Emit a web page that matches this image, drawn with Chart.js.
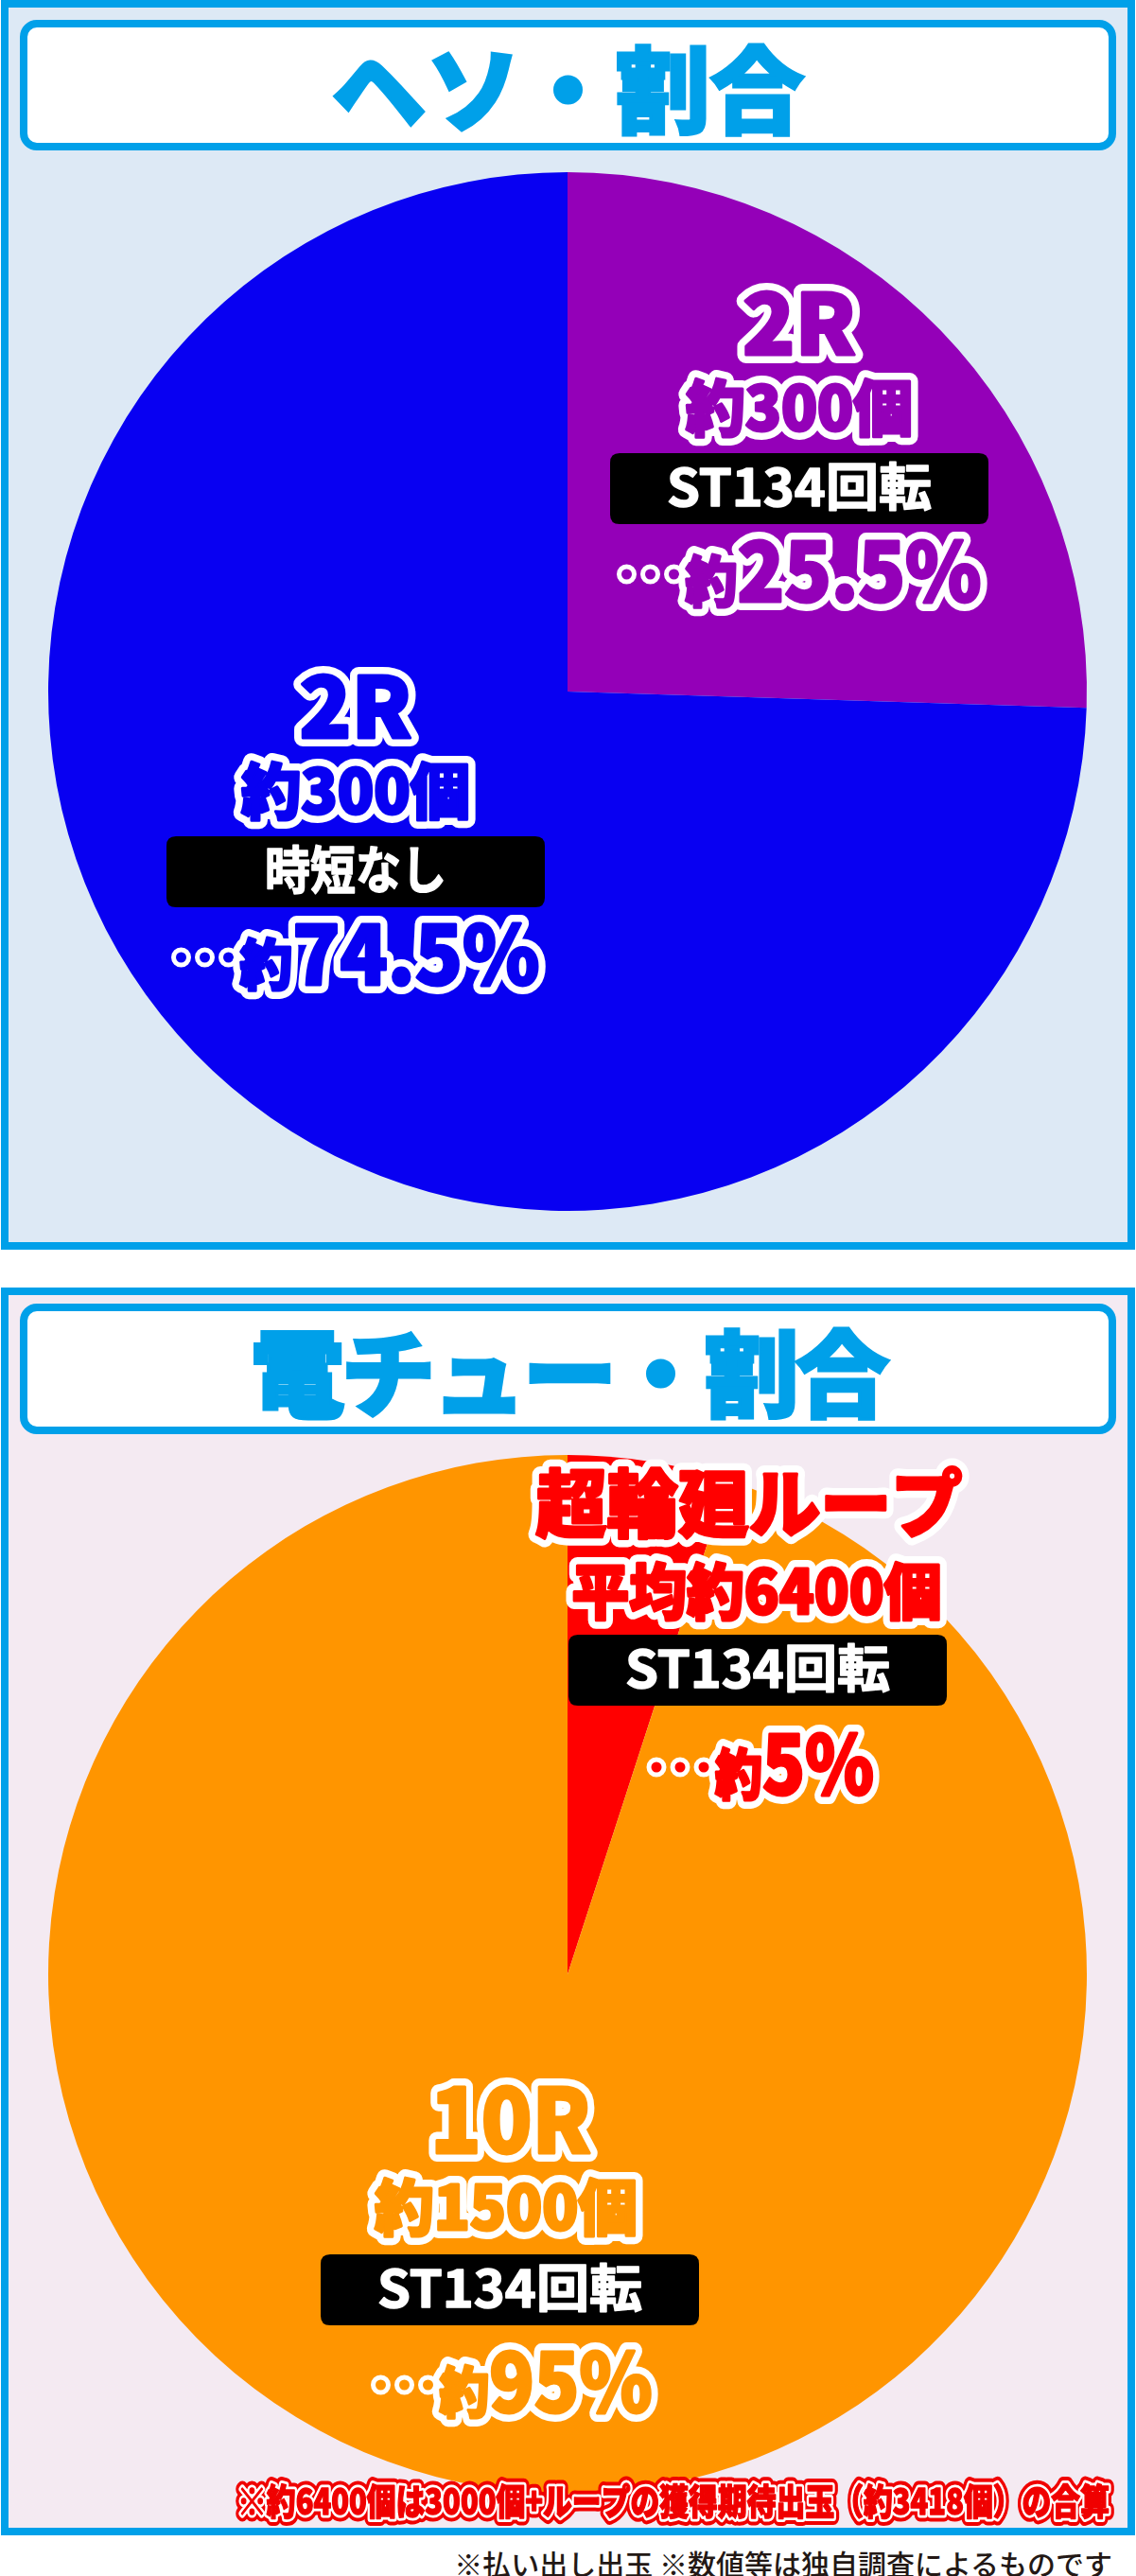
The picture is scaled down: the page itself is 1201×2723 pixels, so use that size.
<!DOCTYPE html>
<html lang="ja">
<head>
<meta charset="utf-8">
<title>ヘソ・電チュー 割合</title>
<script src="https://cdn.jsdelivr.net/npm/chart.js@4.4.1/dist/chart.umd.min.js"></script>
<style>
  body { margin: 0; width: 1201px; height: 2723px; background: #fff; position: relative; font-family: "Noto Sans CJK JP", sans-serif; overflow: hidden; }
  .panel { position: absolute; left: 1px; width: 1199px; box-sizing: border-box; border: 8px solid #00a0e9; }
  #topPanel { top: 0; height: 1321px; background: #dde9f5; }
  #bottomPanel { top: 1361px; height: 1319px; background: #f4eaf2; }
  .title { position: absolute; left: 21px; width: 1159px; height: 138px; box-sizing: border-box; border: 8px solid #00a0e9; border-radius: 18px; background: #fff; color: #00a0e9; font-size: 100px; font-weight: 900; -webkit-text-stroke: 3px #00a0e9; display: flex; align-items: center; justify-content: center; line-height: 1; }
  canvas { position: absolute; left: 0; }
  .note { position: absolute; right: 25px; top: 2687px; font-size: 30px; font-weight: 500; color: #231815; white-space: nowrap; }
</style>
</head>
<body>
<div class="panel" id="topPanel"></div>
<div class="title" style="top:21px">ヘソ・割合</div>
<canvas id="hesoChart" width="1201" height="1321" style="top:0"></canvas>

<div class="panel" id="bottomPanel"></div>
<div class="title" style="top:1378px; letter-spacing:-4px">電チュー・割合</div>
<canvas id="denchuChart" width="1201" height="1319" style="top:1361px"></canvas>

<div class="note">※払い出し出玉 ※数値等は独自調査によるものです</div>

<script>
// ヘソ
const hesoRounds = ['2R', '2R'];
const hesoPayouts = ['約300個', '約300個'];
const hesoModes = ['ST134回転', '時短なし'];
const hesoShares = [25.5, 74.5];
const hesoColors = ['#9400b8', '#0800f2'];

// 電チュー
const denchuRounds = ['超輪廻ループ', '10R'];
const denchuPayouts = ['平均約6400個', '約1500個'];
const denchuModes = ['ST134回転', 'ST134回転'];
const denchuShares = [5, 95];
const denchuColors = ['#ff0000', '#ff9500'];

const denchuNote = '※約6400個は3000個+ループの獲得期待出玉（約3418個）の合算';

// label placement, offsets from the pie centre
const hesoLayout = [
  { round: { dx: 245, dy: -388, w: 120, size: 88 }, payout: { dx: 245, dy: -299, w: 240 }, box: { dx: 245, dy: -215, tw: 280 }, pct: { dx: 245, dy: -126, w: 385 } },
  { round: { dx: -224, dy: 17, w: 119, size: 88 }, payout: { dx: -224, dy: 106, w: 242 }, box: { dx: -224, dy: 190, tw: 192 }, pct: { dx: -224, dy: 279, w: 389 } }
];
const denchuLayout = [
  { round: { dx: 192, dy: -496, w: 451, size: 78 }, payout: { dx: 200, dy: -404, w: 391 }, box: { dx: 201, dy: -322, tw: 280 }, pct: { dx: 204, dy: -221, w: 240 } },
  { round: { dx: -60, dy: 155, w: 170, size: 94 }, payout: { dx: -65, dy: 247, w: 278 }, box: { dx: -61, dy: 333, tw: 280 }, pct: { dx: -59, dy: 432, w: 297 } }
];

const FONT = '"Noto Sans CJK JP", "Noto Sans CJK SC", sans-serif';
function fontOf(s) {
  return (s.weight || 900) + ' ' + s.size + 'px ' + FONT;
}

// draws a run of text segments, centred on x, scaled to the given width
function drawRun(ctx, segs, x, y, width, fill, outlines, heavy) {
  let total = 0, maxSize = 0;
  segs.forEach(s => {
    ctx.font = fontOf(s);
    s.w = ctx.measureText(s.text).width;
    total += s.w;
    maxSize = Math.max(maxSize, s.size);
  });
  const sx = width / total;
  ctx.save();
  ctx.translate(x - width / 2, y + maxSize * 0.36);
  ctx.scale(sx, 1);
  ctx.textAlign = 'left';
  ctx.textBaseline = 'alphabetic';
  ctx.lineJoin = 'round';
  const strokes = (outlines || []).slice();
  if (heavy) strokes.push({ color: fill, width: heavy });
  strokes.forEach(o => {
    let px = 0;
    ctx.strokeStyle = o.color;
    ctx.lineWidth = o.width;
    segs.forEach(s => {
      ctx.font = fontOf(s);
      ctx.strokeText(s.text, px, 0);
      px += s.w;
    });
  });
  let px = 0;
  ctx.fillStyle = fill;
  segs.forEach(s => {
    ctx.font = fontOf(s);
    ctx.fillText(s.text, px, 0);
    px += s.w;
  });
  ctx.restore();
}

// the three leader dots in front of the percentage
function drawDots(ctx, left, y, fill) {
  for (let k = 0; k < 3; k++) {
    ctx.beginPath();
    ctx.arc(left + 10 + k * 25, y + 2, 5.5, 0, Math.PI * 2);
    ctx.lineWidth = 10;
    ctx.strokeStyle = '#fff';
    ctx.stroke();
    ctx.fillStyle = fill;
    ctx.fill();
  }
}

function roundRect(ctx, x, y, w, h, r) {
  ctx.beginPath();
  ctx.moveTo(x + r, y);
  ctx.lineTo(x + w - r, y);
  ctx.quadraticCurveTo(x + w, y, x + w, y + r);
  ctx.lineTo(x + w, y + h - r);
  ctx.quadraticCurveTo(x + w, y + h, x + w - r, y + h);
  ctx.lineTo(x + r, y + h);
  ctx.quadraticCurveTo(x, y + h, x, y + h - r);
  ctx.lineTo(x, y + r);
  ctx.quadraticCurveTo(x, y, x + r, y);
  ctx.closePath();
}

const white = [{ color: '#fff', width: 18 }];

const sliceLabels = {
  id: 'sliceLabels',
  afterDatasetsDraw(chart, args, opts) {
    const ctx = chart.ctx;
    const arcs = chart.getDatasetMeta(0).data;
    const ds = chart.data.datasets[0];
    arcs.forEach((arc, i) => {
      const L = opts.layout[i];
      const col = ds.backgroundColor[i];
      const cx = arc.x, cy = arc.y;

      drawRun(ctx, [{ text: opts.rounds[i], size: L.round.size }],
        cx + L.round.dx, cy + L.round.dy, L.round.w, col, white, 3);
      drawRun(ctx, [{ text: opts.payouts[i], size: 64 }],
        cx + L.payout.dx, cy + L.payout.dy, L.payout.w, col, white, 3);

      // black tag
      ctx.fillStyle = '#000';
      roundRect(ctx, cx + L.box.dx - 200, cy + L.box.dy - 37, 400, 75, 10);
      ctx.fill();
      drawRun(ctx, [{ text: opts.modes[i], size: 54, weight: 700 }],
        cx + L.box.dx, cy + L.box.dy, L.box.tw, '#fff', null, 1.5);

      const left = cx + L.pct.dx - L.pct.w / 2;
      drawDots(ctx, left, cy + L.pct.dy, col);
      drawRun(ctx, [
        { text: '約', size: 58 },
        { text: ds.data[i] + '%', size: 86 }
      ], left + 72 + (L.pct.w - 72) / 2, cy + L.pct.dy, L.pct.w - 72, col, white, 3);
    });

    if (opts.note) {
      drawRun(ctx, [{ text: opts.note, size: 38 }], 712, 1283, 922, '#f00000',
        [{ color: '#f00000', width: 15 }, { color: '#fff', width: 7 }], 1.5);
    }
  }
};

function makePie(id, labels, shares, colors, padding, labelOpts) {
  return new Chart(document.getElementById(id), {
    type: 'pie',
    data: {
      labels: labels,
      datasets: [{ data: shares, backgroundColor: colors, borderWidth: 0 }]
    },
    options: {
      responsive: false,
      animation: false,
      layout: { padding: padding },
      plugins: {
        legend: { display: false },
        tooltip: { enabled: false },
        sliceLabels: labelOpts
      }
    },
    plugins: [sliceLabels]
  });
}

makePie('hesoChart', hesoRounds, hesoShares, hesoColors,
  { top: 182, bottom: 41, left: 51, right: 52 },
  { rounds: hesoRounds, payouts: hesoPayouts, modes: hesoModes, layout: hesoLayout });

makePie('denchuChart', denchuRounds, denchuShares, denchuColors,
  { top: 177, bottom: 44, left: 51, right: 52 },
  { rounds: denchuRounds, payouts: denchuPayouts, modes: denchuModes, layout: denchuLayout, note: denchuNote });
</script>
</body>
</html>
